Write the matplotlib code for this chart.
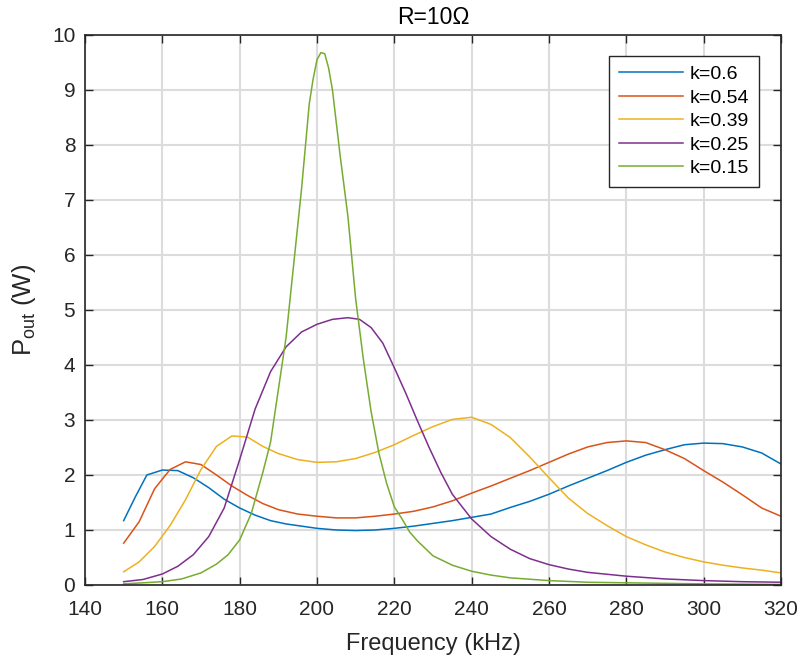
import matplotlib
matplotlib.use('Agg')
import matplotlib.pyplot as plt

# ============================================================================
# DONNEES
# ============================================================================

f_06 = [150, 153, 156, 160, 164, 168, 172, 176, 180, 184, 188, 192, 196, 200,
        205, 210, 215, 220, 225, 230, 235, 240, 245, 250, 255, 260, 265, 270,
        275, 280, 285, 290, 295, 300, 305, 310, 315, 318, 320]
p_06 = [1.17, 1.60, 2.00, 2.09, 2.08, 1.95, 1.77, 1.56, 1.40, 1.27, 1.17, 1.11,
        1.07, 1.03, 1.00, 0.99, 1.00, 1.03, 1.07, 1.12, 1.17, 1.23, 1.29, 1.41,
        1.52, 1.65, 1.80, 1.94, 2.08, 2.23, 2.36, 2.46, 2.55, 2.58, 2.57, 2.51,
        2.40, 2.28, 2.20]

f_054 = [150, 154, 158, 162, 166, 170, 174, 178, 182, 186, 190, 195, 200, 205,
         210, 215, 220, 225, 230, 235, 240, 245, 250, 255, 260, 265, 270, 275,
         280, 285, 290, 295, 300, 305, 310, 315, 320]
p_054 = [0.76, 1.15, 1.75, 2.10, 2.24, 2.19, 2.00, 1.80, 1.63, 1.48, 1.37, 1.29,
         1.25, 1.22, 1.22, 1.25, 1.29, 1.34, 1.42, 1.53, 1.67, 1.80, 1.94, 2.08,
         2.23, 2.38, 2.51, 2.59, 2.62, 2.59, 2.46, 2.30, 2.08, 1.87, 1.64, 1.40,
         1.25]

f_039 = [150, 154, 158, 162, 166, 170, 174, 178, 182, 186, 190, 195, 200, 205,
         210, 215, 220, 225, 230, 235, 240, 245, 250, 255, 260, 265, 270, 275,
         280, 285, 290, 295, 300, 305, 310, 315, 320]
p_039 = [0.24, 0.42, 0.70, 1.08, 1.55, 2.10, 2.52, 2.71, 2.69, 2.52, 2.39, 2.28,
         2.23, 2.24, 2.30, 2.41, 2.55, 2.72, 2.88, 3.01, 3.05, 2.92, 2.68, 2.33,
         1.95, 1.58, 1.30, 1.08, 0.88, 0.73, 0.60, 0.50, 0.42, 0.36, 0.31, 0.27,
         0.22]

f_025 = [150, 155, 160, 164, 168, 172, 176, 180, 184, 188, 192, 196, 200, 204,
         208, 211, 214, 217, 220, 223, 226, 229, 232, 235, 240, 245, 250, 255,
         260, 265, 270, 280, 290, 300, 310, 320]
p_025 = [0.06, 0.10, 0.20, 0.34, 0.55, 0.88, 1.40, 2.28, 3.20, 3.88, 4.33, 4.60,
         4.74, 4.83, 4.86, 4.83, 4.68, 4.40, 3.95, 3.48, 2.98, 2.50, 2.05, 1.65,
         1.20, 0.88, 0.65, 0.48, 0.37, 0.29, 0.23, 0.16, 0.11, 0.08, 0.06, 0.05]

f_015 = [150, 155, 160, 165, 170, 174, 177, 180, 183, 186, 188, 190, 192, 194,
         196, 198, 199, 200, 201, 202, 203, 204, 206, 208, 210, 212, 214, 216,
         218, 220, 222, 224, 226, 230, 235, 240, 245, 250, 260, 270, 280, 300, 320]
p_015 = [0.02, 0.04, 0.06, 0.11, 0.22, 0.38, 0.55, 0.82, 1.30, 2.05, 2.60, 3.55,
         4.50, 5.85, 7.20, 8.75, 9.20, 9.55, 9.68, 9.66, 9.40, 9.00, 7.80, 6.70,
         5.20, 4.10, 3.15, 2.40, 1.85, 1.42, 1.20, 0.96, 0.80, 0.53, 0.36, 0.25,
         0.18, 0.13, 0.08, 0.05, 0.04, 0.02, 0.01]

series = [
    (f_06, p_06, 'k=0.6', '#0072BD'),
    (f_054, p_054, 'k=0.54', '#D95319'),
    (f_039, p_039, 'k=0.39', '#EDB120'),
    (f_025, p_025, 'k=0.25', '#7E2F8E'),
    (f_015, p_015, 'k=0.15', '#77AC30'),
]

# ============================================================================
# STYLE
# ============================================================================

plt.rcParams['font.family'] = ['Liberation Sans', 'DejaVu Sans']
plt.rcParams['mathtext.fontset'] = 'custom'
plt.rcParams['mathtext.rm'] = 'Liberation Sans'
plt.rcParams['mathtext.it'] = 'Liberation Sans'

fig = plt.figure(figsize=(8, 6.59), dpi=100)
ax = fig.add_axes([0.10625, 0.1123, 0.87, 0.8346])

for f, p, lab, col in series:
    ax.plot(f, p, color=col, linewidth=1.1, label=lab)

ax.set_xlim(140, 320)
ax.set_ylim(0, 10)
ax.set_xticks(range(140, 321, 20))
ax.set_yticks(range(0, 11))

ax.grid(True, color='#dcdcdc', linewidth=1.5)
ax.set_axisbelow(True)

for s in ax.spines.values():
    s.set_color('#262626')
    s.set_linewidth(1.2)

ax.tick_params(direction='in', top=True, right=True, length=6, width=1,
               color='#262626', labelsize=15, labelcolor='#262626')
ax.tick_params(axis='x', pad=11)
ax.tick_params(axis='y', pad=7)

ax.set_xlabel('Frequency (kHz)', fontsize=17, color='#262626', labelpad=10)
ax.set_ylabel(r'P$_{\mathrm{out}}$ (W)', fontsize=18.5, color='#262626', labelpad=10)
ax.set_title('R=10Ω', fontsize=16.5, color='black', pad=8)

leg = ax.legend(loc='upper right', bbox_to_anchor=(0.968, 0.962), fontsize=14,
                fancybox=False, framealpha=1, edgecolor='#262626',
                handlelength=3.3, handletextpad=0.35, borderpad=0.5,
                labelspacing=0.3, borderaxespad=0)
leg.get_frame().set_linewidth(1.0)

fig.savefig('out.png', dpi=100)
